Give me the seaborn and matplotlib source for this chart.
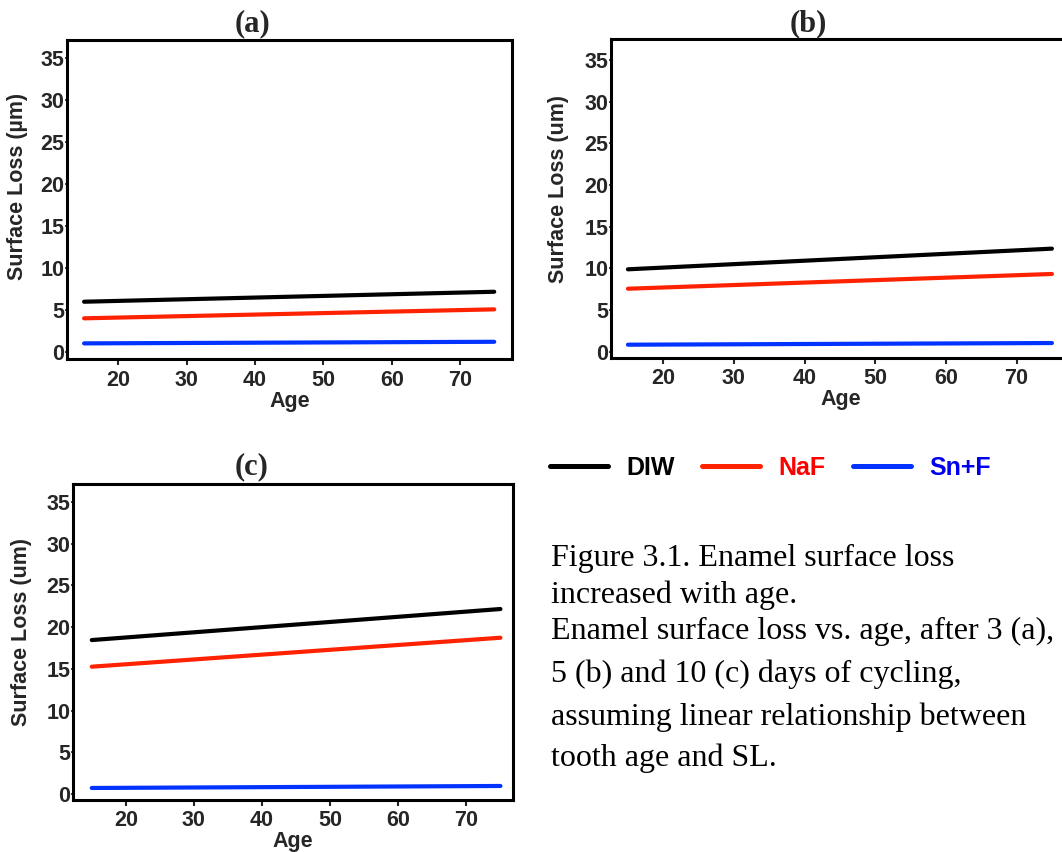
import matplotlib
matplotlib.use("Agg")
import matplotlib.pyplot as plt
import pandas as pd
import seaborn as sns

# ---------------- data ----------------
ages = [15, 75]
series = ["DIW", "NaF", "Sn+F"]
a_diw = [5.97, 7.16]
a_naf = [3.99, 5.06]
a_snf = [1.00, 1.19]
b_diw = [9.89, 12.37]
b_naf = [7.56, 9.33]
b_snf = [0.84, 1.04]
c_diw = [18.44, 22.16]
c_naf = [15.25, 18.72]
c_snf = [0.72, 0.96]
panel_titles = ["(a)", "(b)", "(c)"]
y_labels = ["Surface Loss (\u00b5m)", "Surface Loss (um)", "Surface Loss (um)"]
x_label = "Age"
y_ticks = [0, 5, 10, 15, 20, 25, 30, 35]
x_ticks = [20, 30, 40, 50, 60, 70]
caption_lines = [
    "Figure 3.1. Enamel surface loss",
    "increased with age.",
    "Enamel surface loss vs. age, after 3 (a),",
    "5 (b) and 10 (c) days of cycling,",
    "assuming linear relationship between",
    "tooth age and SL.",
]

line_colors = {"DIW": "#000000", "NaF": "#ff2200", "Sn+F": "#0033ff"}
text_colors = ["#000000", "#ff0000", "#0000ee"]

sns.set_style("white")
plt.rcParams["font.family"] = ["Liberation Sans", "DejaVu Sans"]

W, H = 1062, 852
fig = plt.figure(figsize=(W / 100, H / 100), dpi=100)


def frac_box(left, top, right, bottom):
    return [left / W, (H - bottom) / H, (right - left) / W, (bottom - top) / H]


panels = [
    dict(vals=[a_diw, a_naf, a_snf], box=frac_box(67, 40, 512, 359.3),
         xlim=(12.5, 77.6), ylim=(-0.9, 37.2), title_xy=(253, 24),
         ylab_coords=(-0.088, 0.541)),
    dict(vals=[b_diw, b_naf, b_snf], box=frac_box(610.7, 39.3, 1071, 357.7),
         xlim=(12.56, 77.7), ylim=(-0.72, 37.5), title_xy=(808, 24),
         ylab_coords=(-0.091, 0.530)),
    dict(vals=[c_diw, c_naf, c_snf], box=frac_box(72.7, 484.3, 512.7, 800),
         xlim=(12.2, 76.8), ylim=(-0.72, 37.1), title_xy=(252, 467),
         ylab_coords=(-0.092, 0.533)),
]

TICK_FS = 15.5
LAB_FS = 15.5

handles = None
for i, p in enumerate(panels):
    ax = fig.add_axes(p["box"])
    rows = []
    for name, vals in zip(series, p["vals"]):
        for x, y in zip(ages, vals):
            rows.append({"Age": x, "SL": y, "Series": name})
    df = pd.DataFrame(rows)
    sns.lineplot(data=df, x="Age", y="SL", hue="Series", hue_order=series,
                 palette=line_colors, linewidth=3.0, ax=ax, legend=(i == 0))
    if i == 0:
        handles, labels = ax.get_legend_handles_labels()
        ax.get_legend().remove()
    ax.set_xlim(*p["xlim"])
    ax.set_ylim(*p["ylim"])
    ax.set_xticks(x_ticks)
    ax.set_yticks(y_ticks)
    ax.set_xticklabels([str(t) for t in x_ticks], fontsize=TICK_FS, fontweight="bold")
    ax.set_yticklabels([str(t) for t in y_ticks], fontsize=TICK_FS, fontweight="bold")
    ax.tick_params(axis="x", direction="out", length=4, width=1.5, pad=3.5, bottom=True)
    ax.tick_params(axis="y", direction="out", length=1.5, width=1.2, pad=0.3, left=True)
    ax.set_xlabel(x_label, fontsize=LAB_FS, fontweight="bold", labelpad=0)
    ax.set_ylabel(y_labels[i], fontsize=LAB_FS, fontweight="bold")
    ax.yaxis.set_label_coords(*p["ylab_coords"])
    for s in ax.spines.values():
        s.set_linewidth(2.2)
        s.set_color("black")
    ax.grid(False)
    tx, ty = p["title_xy"]
    fig.text(tx / W, 1 - ty / H, panel_titles[i], ha="center", va="center",
             fontsize=22, fontweight="bold", family=["Liberation Serif", "DejaVu Serif"])

for h in handles:
    h.set_linewidth(3.6)
leg = fig.legend(handles, series, loc="center left",
                 bbox_to_anchor=(550 / W, 1 - 468 / H), ncol=3, frameon=False,
                 borderpad=0, borderaxespad=0, handlelength=2.3, handletextpad=0.75,
                 columnspacing=1.1, prop={"size": 18, "weight": "bold"})
for t, c in zip(leg.get_texts(), text_colors):
    t.set_color(c)

baselines = [566, 602.7, 639, 681.7, 725, 766]
for line, yb in zip(caption_lines, baselines):
    fig.text(550.7 / W, 1 - yb / H, line, ha="left", va="baseline", fontsize=23,
             family=["Liberation Serif", "DejaVu Serif"], color="black")

fig.savefig("out.png", dpi=100)
